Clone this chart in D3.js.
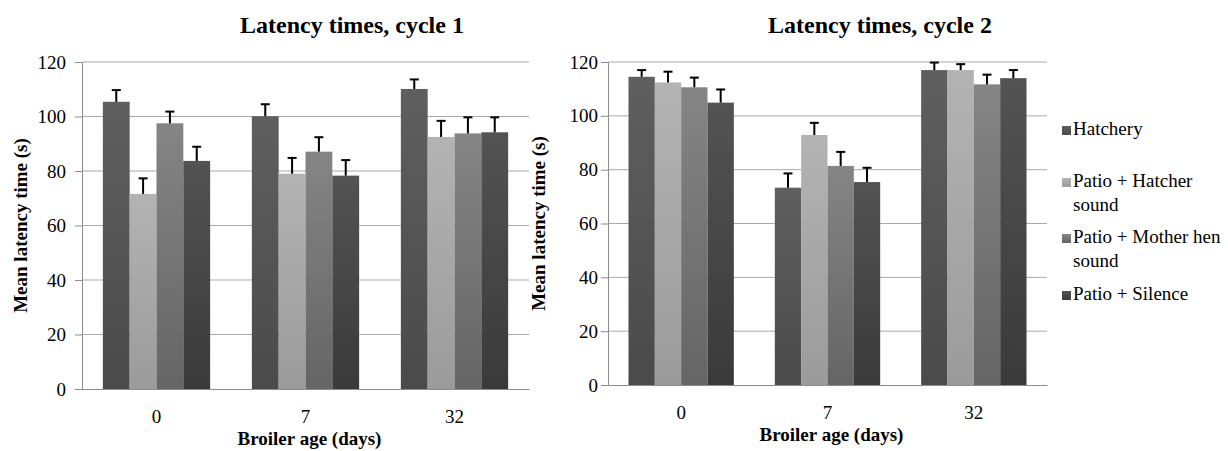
<!DOCTYPE html>
<html>
<head>
<meta charset="utf-8">
<script src="https://cdn.jsdelivr.net/npm/d3@7"></script>
<style>
  body { margin: 0; background: #fff; }
  svg text { font-family: "Times New Roman", "Liberation Serif", Tinos, "DejaVu Serif", serif; }
</style>
</head>
<body>
<svg id="chart" width="1228" height="451"></svg>
<script>
// data
var ages = ["0", "7", "32"];
var groups = ["Hatchery", "Patio + Hatcher sound", "Patio + Mother hen sound", "Patio + Silence"];
var yTicks = [0, 20, 40, 60, 80, 100, 120];

// cycle 1: mean per age (rows) and group (columns), plus upper error size
var cycle1Mean = [[105.4, 71.6, 97.5, 83.7], [100.1, 79.0, 87.1, 78.3], [110.1, 92.5, 93.8, 94.2]];
var cycle1Err = [[4.3, 5.7, 4.3, 5.2], [4.4, 5.8, 5.3, 5.7], [3.5, 5.9, 5.9, 5.5]];

// cycle 2
var cycle2Mean = [[114.5, 112.4, 110.6, 104.9], [73.3, 92.9, 81.4, 75.4], [117.0, 117.0, 111.7, 114.0]];
var cycle2Err = [[2.5, 4.0, 3.6, 4.9], [5.3, 4.5, 5.2, 5.3], [2.8, 2.2, 3.6, 3.0]];

var colTop = ["#5f5f5f", "#b3b3b3", "#858585", "#535353"];
var colBot = ["#4a4a4a", "#9b9b9b", "#656565", "#3a3a3a"];

var svg = d3.select("#chart");
var serif = '"Times New Roman", "Liberation Serif", Tinos, "DejaVu Serif", serif';

var defs = svg.append("defs");
groups.forEach(function(g, i) {
  var grad = defs.append("linearGradient")
    .attr("id", "grad" + i)
    .attr("x1", 0).attr("y1", 0).attr("x2", 0).attr("y2", 1);
  grad.append("stop").attr("offset", "0%").attr("stop-color", colTop[i]);
  grad.append("stop").attr("offset", "100%").attr("stop-color", colBot[i]);
});

function drawChart(opt) {
  var g = svg.append("g");

  var xScale = d3.scaleBand()
    .domain(ages)
    .range([opt.left, opt.right])
    .paddingInner(0.28)
    .paddingOuter(0.14);

  var xInner = d3.scaleBand()
    .domain(d3.range(groups.length))
    .range([0, xScale.bandwidth()]);

  var yScale = d3.scaleLinear()
    .domain([0, 120])
    .range([opt.bottom, opt.top]);

  // grid lines
  g.append("g")
    .selectAll("line")
    .data(yTicks.slice(1))
    .enter()
    .append("line")
    .attr("x1", opt.left)
    .attr("x2", opt.right)
    .attr("y1", function(d) { return yScale(d); })
    .attr("y2", function(d) { return yScale(d); })
    .attr("stroke", "#a9a9a9")
    .attr("stroke-width", 1);

  // bars
  var rows = [];
  ages.forEach(function(a, ai) {
    groups.forEach(function(gr, gi) {
      rows.push({age: a, gi: gi, mean: opt.mean[ai][gi], err: opt.err[ai][gi]});
    });
  });

  g.append("g")
    .selectAll("rect")
    .data(rows)
    .enter()
    .append("rect")
    .attr("x", function(d) { return xScale(d.age) + xInner(d.gi); })
    .attr("width", xInner.bandwidth())
    .attr("y", function(d) { return yScale(d.mean); })
    .attr("height", function(d) { return yScale(0) - yScale(d.mean); })
    .attr("fill", function(d) { return "url(#grad" + d.gi + ")"; });

  // error bars (upper only)
  var eb = g.append("g").selectAll("g")
    .data(rows)
    .enter()
    .append("g")
    .attr("stroke", "#000")
    .attr("stroke-width", 2);
  eb.append("line")
    .attr("x1", function(d) { return xScale(d.age) + xInner(d.gi) + xInner.bandwidth() / 2; })
    .attr("x2", function(d) { return xScale(d.age) + xInner(d.gi) + xInner.bandwidth() / 2; })
    .attr("y1", function(d) { return yScale(d.mean); })
    .attr("y2", function(d) { return yScale(d.mean + d.err); });
  eb.append("line")
    .attr("x1", function(d) { return xScale(d.age) + xInner(d.gi) + xInner.bandwidth() / 2 - 4.5; })
    .attr("x2", function(d) { return xScale(d.age) + xInner(d.gi) + xInner.bandwidth() / 2 + 4.5; })
    .attr("y1", function(d) { return yScale(d.mean + d.err); })
    .attr("y2", function(d) { return yScale(d.mean + d.err); });

  // y axis
  var yAxis = g.append("g")
    .attr("transform", "translate(" + opt.left + ",0)")
    .call(d3.axisLeft(yScale).tickValues(yTicks).tickSize(7).tickPadding(opt.tickPad).tickSizeOuter(0));
  yAxis.attr("font-family", null);
  yAxis.select(".domain").attr("stroke", "#8c8c8c");
  yAxis.selectAll(".tick line").attr("stroke", "#8c8c8c");
  yAxis.selectAll("text")
    .style("font-size", "19px")
    .style("font-family", serif)
    .attr("fill", "#000");

  // x axis
  var xAxis = g.append("g")
    .attr("transform", "translate(0," + opt.bottom + ")")
    .call(d3.axisBottom(xScale).tickSize(0).tickPadding(21).tickSizeOuter(0));
  xAxis.attr("font-family", null);
  xAxis.select(".domain").attr("stroke", "#8c8c8c");
  xAxis.selectAll("text")
    .style("font-size", "19px")
    .style("font-family", serif)
    .attr("fill", "#000");

  // titles
  g.append("text")
    .attr("x", opt.titleX)
    .attr("y", 33)
    .style("font-size", "24px")
    .style("font-weight", "bold")
    .text(opt.title);

  g.append("text")
    .attr("x", (opt.left + opt.right) / 2 + 4)
    .attr("y", opt.bottom + 56)
    .attr("text-anchor", "middle")
    .style("font-size", "19px")
    .style("font-weight", "bold")
    .text("Broiler age (days)");

  g.append("text")
    .attr("transform", "translate(" + opt.yLabelX + "," + (opt.top + opt.bottom) / 2 + ") rotate(-90)")
    .attr("text-anchor", "middle")
    .style("font-size", "19px")
    .style("font-weight", "bold")
    .text("Mean latency time (s)");
}

drawChart({
  left: 82, right: 529, top: 62, bottom: 389,
  mean: cycle1Mean, err: cycle1Err,
  title: "Latency times, cycle 1", titleX: 240,
  yLabelX: 27, tickPad: 9
});

drawChart({
  left: 608, right: 1047, top: 62, bottom: 385,
  mean: cycle2Mean, err: cycle2Err,
  title: "Latency times, cycle 2", titleX: 768,
  yLabelX: 545, tickPad: 3
});

// legend
var legendY = [135, 187, 243, 300];
var legendLines = [["Hatchery"], ["Patio + Hatcher", "sound"], ["Patio + Mother hen", "sound"], ["Patio + Silence"]];
var legend = svg.append("g")
  .selectAll("g")
  .data(groups)
  .enter()
  .append("g")
  .attr("transform", function(d, i) { return "translate(1062," + legendY[i] + ")"; });

legend.append("rect")
  .attr("x", 0)
  .attr("y", -9)
  .attr("width", 9)
  .attr("height", 9)
  .attr("fill", function(d, i) { return "url(#grad" + i + ")"; });

legend.append("text")
  .attr("x", 11)
  .style("font-size", "19px")
  .selectAll("tspan")
  .data(function(d, i) { return legendLines[i]; })
  .enter()
  .append("tspan")
  .attr("x", 11)
  .attr("dy", function(d, j) { return j === 0 ? 0 : 24; })
  .text(function(d) { return d; });
</script>
</body>
</html>
